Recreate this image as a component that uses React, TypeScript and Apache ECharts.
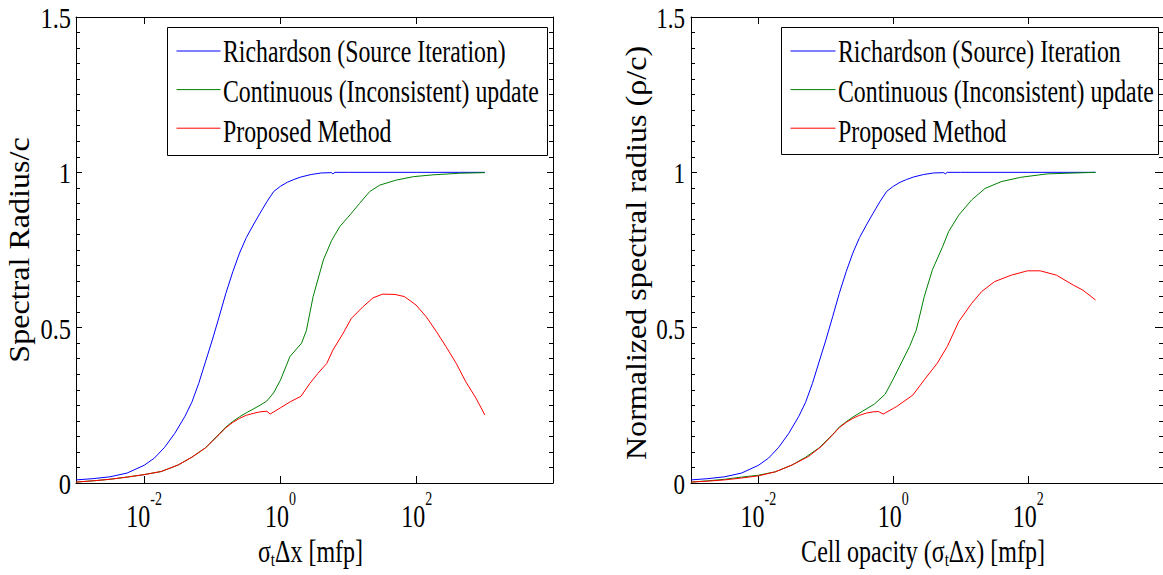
import React, { useEffect, useRef } from "react";
import * as echarts from "echarts";

const FONT = "Liberation Serif";

// ---- axes ----
const xMin = 1e-3;
const xMax = 1e4;
const xTickValues = [0.01, 1, 100];
const xTickExponents = ["-2", "0", "2"];
const yMin = 0;
const yMax = 1.5;
const yStep = 0.5;
const yTickValues = [0, 0.5, 1, 1.5];
const yTickLabels = ["0", "0.5", "1", "1.5"];

// ---- names / texts ----
const leftNames = ["Richardson (Source Iteration)", "Continuous (Inconsistent) update", "Proposed Method"];
const rightNames = ["Richardson (Source) Iteration", "Continuous (Inconsistent) update", "Proposed Method"];
const colors = ["#0000ff", "#008000", "#ff0000"];
const leftXTitle = ["σ", "t", "Δx [mfp]"];
const rightXTitle = ["Cell opacity (σ", "t", "Δx) [mfp]"];
const leftYTitle = "Spectral Radius/c";
const rightYTitle = "Normalized spectral radius (ρ/c)";

// ---- data: Richardson (same in both panels) ----
const richardsonX = [0.001, 0.00178, 0.00316, 0.00562, 0.01, 0.0141, 0.02, 0.0282, 0.0398, 0.0501, 0.0631, 0.0794, 0.1, 0.126, 0.158, 0.2, 0.251, 0.316, 0.398, 0.501, 0.631, 0.794, 1, 1.26, 1.58, 2, 2.82, 3.98, 5.62, 5.89, 6.31, 10, 100, 1000];
const richardsonY = [0.010, 0.014, 0.020, 0.032, 0.057, 0.080, 0.115, 0.160, 0.215, 0.260, 0.320, 0.390, 0.460, 0.535, 0.610, 0.680, 0.740, 0.790, 0.830, 0.868, 0.905, 0.938, 0.955, 0.968, 0.977, 0.985, 0.993, 0.998, 0.999, 0.995, 1.0, 1.0, 1.0, 1.0];

// ---- data: left panel ----
const continuousLeftX = [0.001, 0.00178, 0.00316, 0.00562, 0.01, 0.0178, 0.0316, 0.0501, 0.0794, 0.126, 0.158, 0.2, 0.251, 0.316, 0.398, 0.501, 0.631, 0.794, 1, 1.38, 2.04, 2.4, 3.02, 4.27, 5.62, 7.41, 10.5, 14.5, 20.4, 28.8, 50.1, 89.1, 174, 427, 1000];
const continuousLeftY = [0.003, 0.007, 0.012, 0.019, 0.027, 0.037, 0.058, 0.083, 0.113, 0.158, 0.180, 0.198, 0.213, 0.226, 0.238, 0.250, 0.264, 0.290, 0.331, 0.407, 0.450, 0.490, 0.600, 0.718, 0.780, 0.825, 0.863, 0.900, 0.938, 0.959, 0.975, 0.986, 0.992, 0.997, 0.999];
const proposedLeftX = [0.001, 0.00178, 0.00316, 0.00562, 0.01, 0.0178, 0.0316, 0.0501, 0.0794, 0.126, 0.158, 0.2, 0.251, 0.316, 0.398, 0.501, 0.631, 0.708, 1, 1.41, 2, 2.69, 3.55, 4.79, 5.89, 8.32, 11, 16.2, 22.9, 31.6, 47.9, 66.1, 97.7, 138, 195, 269, 380, 525, 741, 1000];
const proposedLeftY = [0.003, 0.007, 0.012, 0.019, 0.027, 0.037, 0.058, 0.083, 0.113, 0.156, 0.178, 0.195, 0.208, 0.218, 0.224, 0.229, 0.231, 0.222, 0.242, 0.262, 0.279, 0.320, 0.353, 0.385, 0.428, 0.482, 0.530, 0.567, 0.596, 0.608, 0.607, 0.600, 0.573, 0.535, 0.487, 0.439, 0.385, 0.326, 0.273, 0.219];

// ---- data: right panel ----
const continuousRightX = [0.001, 0.00178, 0.00316, 0.00562, 0.01, 0.0178, 0.0316, 0.0501, 0.0794, 0.126, 0.158, 0.2, 0.251, 0.355, 0.525, 0.759, 1, 1.74, 2.19, 2.88, 3.8, 5.37, 6.61, 9.33, 14.5, 22.9, 39.8, 77.6, 191, 1000];
const continuousRightY = [0.003, 0.007, 0.012, 0.019, 0.025, 0.036, 0.058, 0.083, 0.113, 0.156, 0.180, 0.197, 0.212, 0.232, 0.254, 0.286, 0.335, 0.439, 0.492, 0.600, 0.686, 0.760, 0.809, 0.862, 0.911, 0.948, 0.970, 0.984, 0.995, 1.0];
const proposedRightX = [0.001, 0.00178, 0.00316, 0.00562, 0.01, 0.0178, 0.0316, 0.055, 0.0851, 0.126, 0.158, 0.2, 0.251, 0.316, 0.398, 0.501, 0.603, 0.708, 1, 1.12, 1.95, 2.88, 4.47, 6.31, 9.33, 14.5, 20.4, 31.6, 56.2, 97.7, 151, 263, 468, 646, 1000];
const proposedRightY = [0.003, 0.006, 0.010, 0.016, 0.023, 0.036, 0.058, 0.085, 0.117, 0.155, 0.178, 0.195, 0.208, 0.218, 0.225, 0.229, 0.230, 0.222, 0.240, 0.246, 0.283, 0.332, 0.385, 0.439, 0.519, 0.578, 0.616, 0.648, 0.669, 0.683, 0.683, 0.669, 0.637, 0.621, 0.589];

const zip = (xs: number[], ys: number[]) => xs.map((x, i) => [x, ys[i]]);

function textStyle(text: string, fontSize: number, align: string, extra: any = {}) {
  return {
    text,
    fontSize,
    fontFamily: FONT,
    fill: "#000",
    textAlign: align,
    align,
    textVerticalAlign: "middle",
    verticalAlign: "middle",
    ...extra,
  };
}

export default function App() {
  const ref = useRef<HTMLDivElement>(null);

  useEffect(() => {
    const el = ref.current as HTMLDivElement;
    const chart = echarts.init(el, null, { renderer: "svg" });

    const grids = [
      { left: 76, top: 17, width: 477, height: 466 },
      { left: 691, top: 17, width: 479, height: 466 },
    ];

    const xAxes: any[] = [];
    const yAxes: any[] = [];
    grids.forEach((_g, gi) => {
      ["bottom", "top"].forEach((pos) =>
        xAxes.push({
          type: "log",
          logBase: 10,
          min: xMin,
          max: xMax,
          gridIndex: gi,
          position: pos,
          axisLine: { show: true, onZero: false, lineStyle: { color: "#000", width: 1 } },
          axisTick: { show: true, inside: true, length: 7, customValues: xTickValues, lineStyle: { color: "#000", width: 1 } },
          minorTick: { show: false },
          axisLabel: { show: false },
          splitLine: { show: false },
        })
      );
      ["left", "right"].forEach((pos) =>
        yAxes.push({
          type: "value",
          min: yMin,
          max: yMax,
          interval: yStep,
          gridIndex: gi,
          position: pos,
          axisLine: { show: true, onZero: false, lineStyle: { color: "#000", width: 1 } },
          axisTick: { show: true, inside: true, length: gi === 1 && pos === "right" ? 8 : 6, lineStyle: { color: "#000", width: 1 } },
          minorTick: { show: true, splitNumber: 10, length: 4, lineStyle: { color: "#000", width: 1 } },
          axisLabel: { show: false },
          splitLine: { show: false },
          minorSplitLine: { show: false },
        })
      );
    });

    const seriesDefs = [
      { name: leftNames[0], xi: 0, yi: 0, data: zip(richardsonX, richardsonY), color: colors[0] },
      { name: leftNames[1], xi: 0, yi: 0, data: zip(continuousLeftX, continuousLeftY), color: colors[1] },
      { name: leftNames[2], xi: 0, yi: 0, data: zip(proposedLeftX, proposedLeftY), color: colors[2] },
      { name: rightNames[0], xi: 2, yi: 2, data: zip(richardsonX, richardsonY), color: colors[0] },
      { name: rightNames[1], xi: 2, yi: 2, data: zip(continuousRightX, continuousRightY), color: colors[1] },
      { name: rightNames[2], xi: 2, yi: 2, data: zip(proposedRightX, proposedRightY), color: colors[2] },
    ];

    const legendCommon = {
      show: true,
      orient: "vertical",
      top: 44,
      itemWidth: 44,
      itemHeight: 14,
      itemGap: 26,
      padding: 0,
      selectedMode: false,
      formatter: () => "",
      textStyle: { fontSize: 12, padding: 0 },
      itemStyle: { opacity: 0 },
      lineStyle: { width: 1 },
      z: 10,
    };

    chart.setOption({
      animation: false,
      backgroundColor: "#fff",
      color: colors,
      grid: grids,
      xAxis: xAxes,
      yAxis: yAxes,
      legend: [
        { ...legendCommon, left: 176, data: leftNames },
        { ...legendCommon, left: 790, itemWidth: 45, data: rightNames },
      ],
      series: seriesDefs.map((s) => ({
        type: "line",
        name: s.name,
        xAxisIndex: s.xi,
        yAxisIndex: s.yi,
        data: s.data,
        showSymbol: false,
        symbol: "none",
        silent: true,
        color: s.color,
        lineStyle: { color: s.color, width: 1 },
        itemStyle: { color: s.color },
        z: 2,
      })),
    });

    const panels = [
      {
        xi: 0, yi: 0, names: leftNames,
        yLabelFont: 24.5, yLabelScale: 1.22, yLabelGap: 5,
        legend: { x: 167, y: 27.5, w: 380, h: 128, tx: 223 },
        xTitle: leftXTitle, yTitle: leftYTitle, yTitleX: 19, yTitleY: 250,
      },
      {
        xi: 2, yi: 2, names: rightNames,
        yLabelFont: 23, yLabelScale: 1.28, yLabelGap: 6,
        legend: { x: 781, y: 27.5, w: 377, h: 127, tx: 838 },
        xTitle: rightXTitle, yTitle: rightYTitle, yTitleX: 636, yTitleY: 253,
      },
    ];
    const legendRows = [51, 91, 131];

    const elements: any[] = [];
    panels.forEach((p) => {
      const leftPx = chart.convertToPixel({ xAxisIndex: p.xi }, xMin) as number;
      const rightPx = chart.convertToPixel({ xAxisIndex: p.xi }, xMax) as number;

      // y tick labels
      yTickValues.forEach((v, i) => {
        const y = chart.convertToPixel({ yAxisIndex: p.yi }, v) as number;
        elements.push({
          type: "text", z: 100, silent: true,
          x: leftPx - p.yLabelGap, y: y + 1, scaleY: p.yLabelScale,
          style: textStyle(yTickLabels[i], p.yLabelFont, "right"),
        });
      });

      // x tick labels (10^n)
      xTickValues.forEach((v, i) => {
        const x = chart.convertToPixel({ xAxisIndex: p.xi }, v) as number;
        elements.push({
          type: "text", z: 100, silent: true,
          x, y: 516, scaleY: 1.33,
          style: textStyle(`{b|10}{e|${xTickExponents[i]}}`, 24, "center", {
            rich: {
              b: { fontSize: 24, fontFamily: FONT, fill: "#000", lineHeight: 40 },
              e: { fontSize: 14, fontFamily: FONT, fill: "#000", lineHeight: 27, verticalAlign: "top" },
            },
          }),
        });
      });

      // x title with subscript
      elements.push({
        type: "text", z: 100, silent: true,
        x: (leftPx + rightPx) / 2 - 4, y: 551, scaleY: 1.3,
        style: textStyle(`{m|${p.xTitle[0]}}{s|${p.xTitle[1]}}{m|${p.xTitle[2]}}`, 24, "center", {
          rich: {
            m: { fontSize: 24, fontFamily: FONT, fill: "#000", lineHeight: 28 },
            s: { fontSize: 15, fontFamily: FONT, fill: "#000", lineHeight: 6, verticalAlign: "bottom" },
          },
        }),
      });

      // y title
      elements.push({
        type: "text", z: 100, silent: true,
        x: p.yTitleX, y: p.yTitleY, rotation: Math.PI / 2, scaleX: 1.07,
        style: textStyle(p.yTitle, 30, "center"),
      });

      // legend frame + texts (icons come from the legend component)
      const L = p.legend;
      elements.push({
        type: "rect", z: 3, silent: true,
        shape: { x: L.x + 0.5, y: L.y, width: L.w, height: L.h },
        style: { fill: "#fff", stroke: "#000", lineWidth: 1 },
      });
      p.names.forEach((name, i) => {
        elements.push({
          type: "text", z: 100, silent: true,
          x: L.tx, y: legendRows[i], scaleY: 1.37,
          style: textStyle(name, 23.8, "left"),
        });
      });
    });

    chart.setOption({ graphic: { elements } });

    return () => chart.dispose();
  }, []);

  return (
    <div
      ref={ref}
      style={{ position: "absolute", left: 0, top: 0, width: 1163, height: 575, background: "#fff" }}
    />
  );
}
